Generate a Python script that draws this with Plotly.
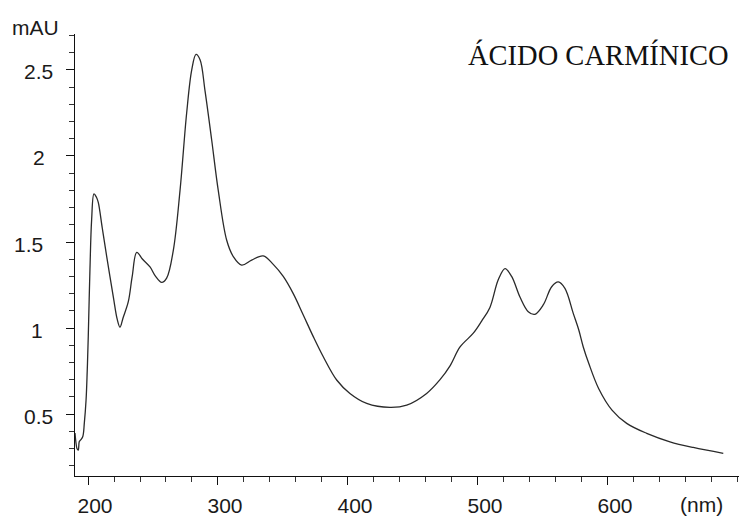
import plotly.graph_objects as go

# UV-Vis absorption spectrum of carminic acid
wavelength_nm = [
    190.0, 190.8, 191.5, 192.5, 193.3, 194.4, 196.0, 197.2, 198.5, 199.4,
    200.2, 201.5, 202.8, 204.6, 206.5, 207.9, 211.0, 214.4, 219.5, 222.5,
    224.6, 227.0, 231.0, 234.0, 237.5, 242.0, 247.7, 252.0, 256.7, 260.5,
    265.6, 270.8, 275.9, 279.8, 283.1, 286.2, 290.0, 295.2, 300.2, 306.7,
    311.8, 318.2, 325.9, 334.8, 342.5, 350.2, 357.9, 365.6, 373.3, 381.0,
    391.3, 401.5, 414.4, 432.3, 445.2, 460.5, 470.8, 478.5, 486.2, 496.4,
    502.8, 509.2, 515.6, 520.8, 525.9, 532.3, 538.7, 543.8, 550.2, 556.7,
    561.8, 566.9, 573.3, 577.5, 581.0, 585.2, 592.8, 603.1, 614.4, 629.8,
    647.7, 665.6, 688.7,
]
absorbance_mau = [
    0.39, 0.33, 0.30, 0.29, 0.34, 0.35, 0.37, 0.45, 0.58, 0.75,
    0.95, 1.34, 1.63, 1.78, 1.76, 1.73, 1.58, 1.415, 1.18, 1.05,
    1.005, 1.06, 1.153, 1.30, 1.44, 1.40, 1.355, 1.30, 1.265, 1.29,
    1.45, 1.80, 2.25, 2.50, 2.59, 2.56, 2.38, 2.09, 1.80, 1.51,
    1.415, 1.366, 1.395, 1.419, 1.37, 1.30, 1.20, 1.076, 0.95, 0.833,
    0.698, 0.62, 0.562, 0.539, 0.552, 0.62, 0.70, 0.78, 0.89, 0.97,
    1.04, 1.12, 1.28, 1.345, 1.30, 1.18, 1.095, 1.08, 1.134, 1.24,
    1.268, 1.23, 1.085, 0.99, 0.89, 0.795, 0.649, 0.523, 0.446, 0.388,
    0.339, 0.306, 0.272,
]

x_tick_vals = [200, 300, 400, 500, 600]
x_tick_text = ["200", "300", "400", "500", "600"]
y_tick_vals = [0.5, 1, 1.5, 2, 2.5]
y_tick_text = ["0.5", "1", "1.5", "2", "2.5"]

title_text = "ÁCIDO CARMÍNICO"
y_unit = "mAU"
x_unit = "(nm)"

sans = "Liberation Sans, Arial, sans-serif"
serif = "Liberation Serif, Times New Roman, serif"
label_font = dict(family=sans, size=21, color="#1a1a1a")

# horizontal offset (px, from the y axis line) of each y tick label's right edge
y_label_xshift = [-20, -30, -30, -28, -20]

fig = go.Figure()
fig.add_trace(go.Scatter(
    x=wavelength_nm,
    y=absorbance_mau,
    mode="lines",
    line=dict(color="#2a2a2a", width=1.3, shape="spline", smoothing=1.0),
    hoverinfo="x+y",
    showlegend=False,
))

axis_common = dict(
    showgrid=False,
    zeroline=False,
    showline=True,
    linecolor="#111111",
    linewidth=1,
    ticks="outside",
    ticklen=8,
    tickwidth=1,
    tickcolor="#111111",
    tickfont=label_font,
)

annotations = [
    dict(text=title_text, xref="paper", yref="paper",
         x=0.9864, y=0.953, xanchor="right", yanchor="middle",
         showarrow=False,
         font=dict(family=serif, size=28.5, color="#111111")),
    dict(text=y_unit, xref="paper", yref="paper",
         x=-0.021, y=1.0158, xanchor="right", yanchor="middle",
         showarrow=False, font=label_font),
    dict(text=x_unit, xref="paper", yref="paper",
         x=0.9435, y=-0.0656, xanchor="center", yanchor="middle",
         showarrow=False, font=label_font),
]
for val, txt, dx in zip(y_tick_vals, y_tick_text, y_label_xshift):
    annotations.append(dict(
        text=txt, xref="paper", yref="y", x=0, y=val,
        xanchor="right", yanchor="middle", xshift=dx, yshift=-2,
        showarrow=False, font=label_font,
    ))

fig.update_layout(
    width=741,
    height=519,
    margin=dict(l=75, r=2, t=34, b=43),
    paper_bgcolor="white",
    plot_bgcolor="white",
    xaxis=dict(
        **axis_common,
        range=[190, 700.8],
        tickmode="array",
        tickvals=x_tick_vals,
        ticktext=x_tick_text,
        ticklabelshift=7,
        ticklabelstandoff=3,
        minor=dict(dtick=20, tick0=200, ticks="outside", ticklen=5,
                   tickcolor="#333333", showgrid=False),
    ),
    yaxis=dict(
        **axis_common,
        range=[0.14, 2.709],
        tickmode="array",
        tickvals=y_tick_vals,
        showticklabels=False,
        minor=dict(dtick=0.1, tick0=0, ticks="outside", ticklen=5,
                   tickcolor="#333333", showgrid=False),
    ),
    annotations=annotations,
)

fig.write_html("out.html")
